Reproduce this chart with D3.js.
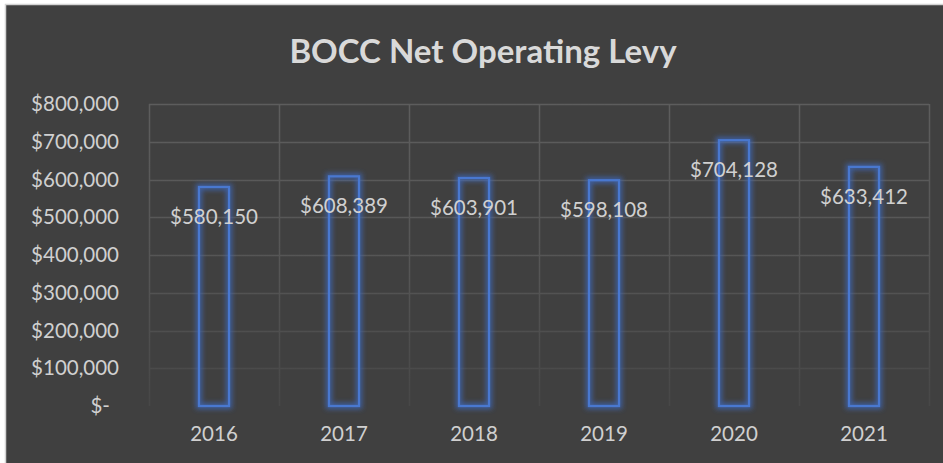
<!DOCTYPE html>
<html>
<head>
<meta charset="utf-8">
<script src="https://cdn.jsdelivr.net/npm/d3@7"></script>
<style>
  html, body { margin: 0; padding: 0; background: #ffffff; }
  svg { display: block; }
  text { font-family: Lato, "Open Sans", sans-serif; }
</style>
</head>
<body>
<svg id="chart" width="943" height="463"></svg>
<script>
const chartTitle = "BOCC Net Operating Levy";
const years = ["2016", "2017", "2018", "2019", "2020", "2021"];
const levy = [580150, 608389, 603901, 598108, 704128, 633412];
const yTicks = [0, 100000, 200000, 300000, 400000, 500000, 600000, 700000, 800000];

const W = 943, H = 463;
const plot = { left: 149, right: 929, top: 104, bottom: 406 };

const svg = d3.select("#chart");
const defs = svg.append("defs");

const glow = defs.append("filter").attr("id", "glow")
  .attr("x", "-60%").attr("y", "-20%").attr("width", "220%").attr("height", "140%");
glow.append("feMorphology").attr("in", "SourceAlpha").attr("operator", "dilate").attr("radius", 1.5).attr("result", "d");
glow.append("feGaussianBlur").attr("in", "d").attr("stdDeviation", 2.8).attr("result", "b");
glow.append("feFlood").attr("flood-color", "#3e68bd").attr("flood-opacity", 0.75).attr("result", "f");
glow.append("feComposite").attr("in", "f").attr("in2", "b").attr("operator", "in").attr("result", "g");
const merge = glow.append("feMerge");
merge.append("feMergeNode").attr("in", "g");
merge.append("feMergeNode").attr("in", "SourceGraphic");

const grad = defs.append("linearGradient").attr("id", "gridGrad")
  .attr("gradientUnits", "userSpaceOnUse")
  .attr("x1", 0).attr("y1", plot.top).attr("x2", 0).attr("y2", plot.bottom);
grad.append("stop").attr("offset", "0%").attr("stop-color", "#5d5d5d");
grad.append("stop").attr("offset", "55%").attr("stop-color", "#555555");
grad.append("stop").attr("offset", "100%").attr("stop-color", "#474747");

// frame
svg.append("rect").attr("x", 0).attr("y", 0).attr("width", W).attr("height", H).attr("fill", "#ffffff");
svg.append("rect").attr("x", 5.5).attr("y", 4.5).attr("width", W).attr("height", H)
  .attr("fill", "#404040").attr("stroke", "#d4d4d4").attr("stroke-width", 1.5);

const x = d3.scaleBand().domain(years).range([plot.left, plot.right]).paddingInner(0.769).paddingOuter(0.3845);
const xCat = d3.scaleBand().domain(years).range([plot.left, plot.right]).padding(0);
const y = d3.scaleLinear().domain([0, 800000]).range([plot.bottom, plot.top]);

// horizontal gridlines
svg.append("g").selectAll("line").data(yTicks.filter(d => d > 0)).join("line")
  .attr("x1", plot.left).attr("x2", plot.right)
  .attr("y1", d => Math.round(y(d)) + 0.5).attr("y2", d => Math.round(y(d)) + 0.5)
  .attr("stroke", "url(#gridGrad)").attr("stroke-width", 1.5);
// vertical gridlines
const vx = years.map(d => xCat(d)).concat([xCat(years[years.length - 1]) + xCat.bandwidth()]);
svg.append("g").selectAll("line").data(vx).join("line")
  .attr("x1", d => Math.round(d) + 0.5).attr("x2", d => Math.round(d) + 0.5)
  .attr("y1", plot.top).attr("y2", plot.bottom)
  .attr("stroke", "url(#gridGrad)").attr("stroke-width", 1.5);

// y axis labels
const yAxis = d3.axisLeft(y).tickValues(yTicks).tickSize(0).tickPadding(0)
  .tickFormat(d => d === 0 ? "$-" : "$" + d3.format(",")(d));
const gy = svg.append("g").attr("transform", `translate(119,0)`).call(yAxis);
gy.select(".domain").remove();
gy.selectAll("text").attr("fill", "#d0d0d0").style("font-size", "20.5px")
  .style("font-family", "Lato, sans-serif")
  .attr("dx", d => d === 0 ? -9 : 0);

// x axis labels
const xAxis = d3.axisBottom(xCat).tickSize(0).tickPadding(0);
const gx = svg.append("g").attr("transform", `translate(0,427)`).call(xAxis);
gx.select(".domain").remove();
gx.selectAll("text").attr("fill", "#d0d0d0").style("font-size", "20.5px")
  .style("font-family", "Lato, sans-serif").attr("dy", "0.7em");

// bars
svg.append("g").selectAll("rect").data(years).join("rect")
  .attr("x", d => x(d)).attr("width", x.bandwidth())
  .attr("y", (d, i) => y(levy[i])).attr("height", (d, i) => y(0) - y(levy[i]))
  .attr("fill", "none").attr("stroke", "#4a78d0").attr("stroke-width", 2.2)
  .attr("filter", "url(#glow)");

// data labels
svg.append("g").selectAll("text").data(years).join("text")
  .attr("x", d => x(d) + x.bandwidth() / 2)
  .attr("y", (d, i) => y(levy[i]) + 29)
  .attr("text-anchor", "middle").attr("dominant-baseline", "central")
  .attr("fill", "#d0d0d0").style("font-size", "20.5px")
  .text((d, i) => "$" + d3.format(",")(levy[i]));

// title
svg.append("text").attr("x", 483).attr("y", 63).attr("text-anchor", "middle")
  .attr("fill", "#d9d9d9").style("font-size", "33px").style("font-weight", "bold")
  .text(chartTitle);
</script>
</body>
</html>
